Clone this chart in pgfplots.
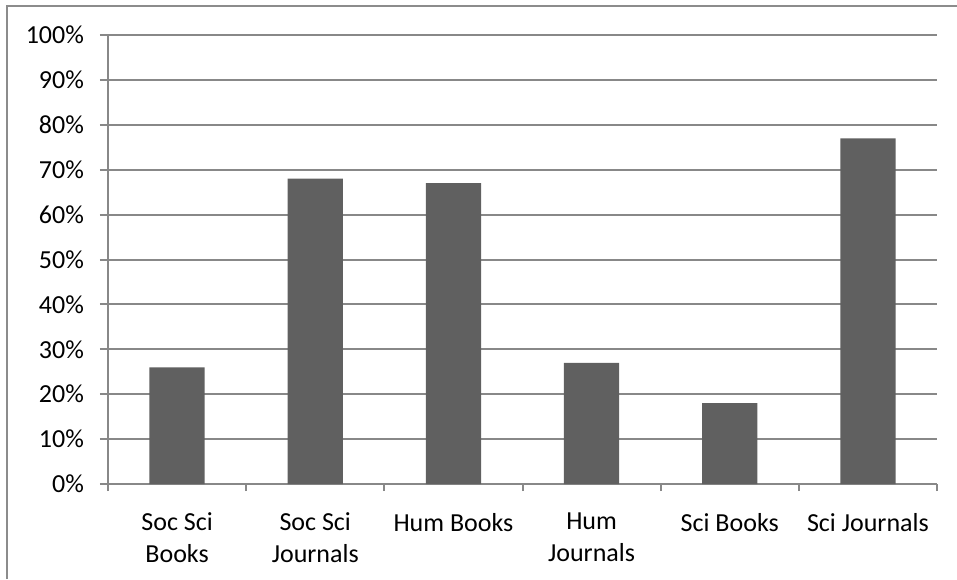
\documentclass[border=0pt]{standalone}
\usepackage{pgfplots}
\pgfplotsset{compat=1.18}
\usepackage{fontspec}
\setmainfont{Carlito}
\definecolor{barfill}{HTML}{606060}
\definecolor{gridgray}{HTML}{888888}
\definecolor{framegray}{HTML}{8C8C8C}
\begin{document}
\begin{tikzpicture}
\useasboundingbox (-54pt,-47.5pt) rectangle (424.5pt,242pt);
\begin{axis}[
  at={(0,0)}, anchor=south west,
  scale only axis,
  width=414.5pt, height=224.5pt,
  font=\fontsize{13}{16}\selectfont,
  /pgf/number format/assume math mode=true,
  xmin=-0.5, xmax=5.5,
  ymin=0, ymax=100,
  ytick={0,10,...,100},
  yticklabel={\pgfmathprintnumber{\tick}\%},
  xtick={0,1,2,3,4,5},
  xticklabels={{Soc Sci\\Books},{Soc Sci\\Journals},{Hum Books},{Hum\\Journals},{Sci Books},{Sci Journals}},
  xticklabel style={align=center, anchor=north, yshift=-7pt},
  minor xtick={-0.5,0.5,...,5.5},
  major x tick style={draw=none},
  minor x tick style={draw=gridgray, line width=1pt},
  minor tick length=3.5pt,
  major tick length=4pt,
  tick align=outside,
  ytick style={draw=gridgray, line width=1pt},
  yticklabel style={xshift=-4.5pt},
  axis x line*=bottom,
  axis y line*=left,
  axis line style={draw=gridgray, line width=1pt, -},
  ymajorgrids,
  grid style={draw=gridgray, line width=1pt},
  ybar,
  bar width=0.4,
]
\addplot[fill=barfill, draw=none] coordinates {
  (0,26) (1,68) (2,67) (3,27) (4,18) (5,77)
};
\end{axis}
\draw[framegray, line width=1pt] (-50.5pt,-47.5pt) -- (-50.5pt,239pt) -- (424.5pt,239pt);
\end{tikzpicture}
\end{document}
